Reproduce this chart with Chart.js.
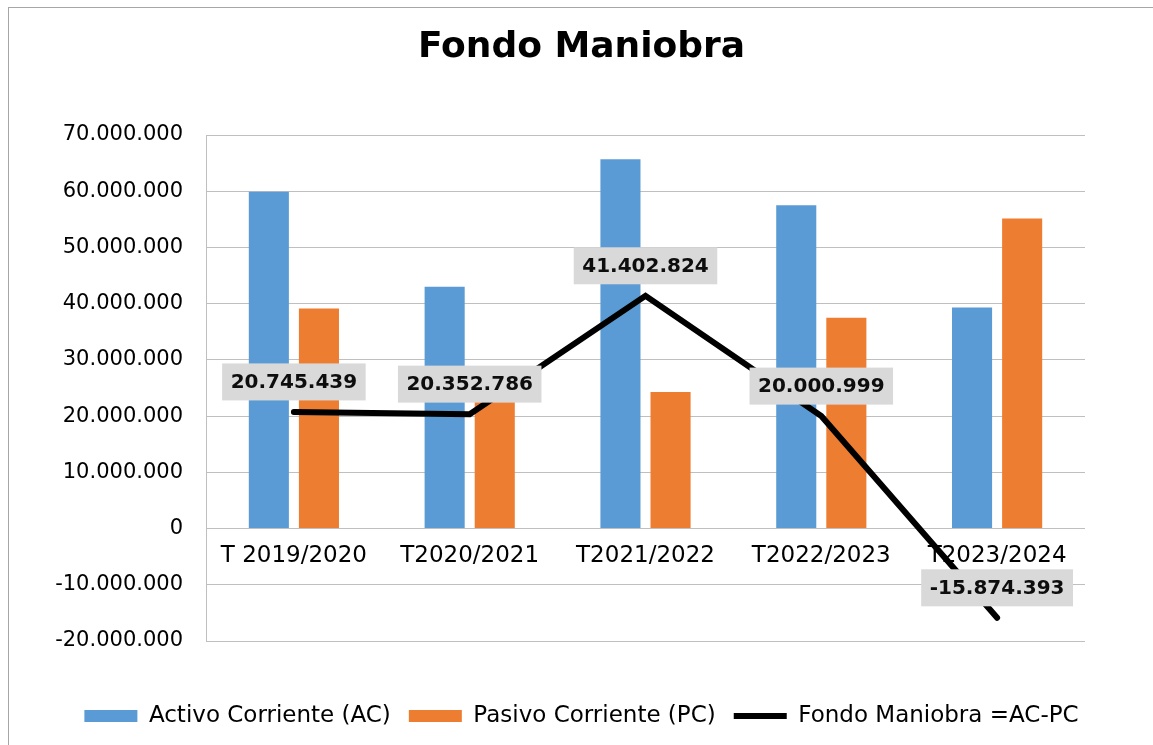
<!DOCTYPE html>
<html>
<head>
<meta charset="utf-8">
<script src="https://cdn.jsdelivr.net/npm/chart.js@4.4.1/dist/chart.umd.min.js"></script>
<style>
  body { margin: 0; background: #fff; }
  #wrap { width: 1153px; height: 745px; position: relative; }
</style>
</head>
<body>
<div id="wrap"><canvas id="myChart"></canvas></div>
<script>

const periodos = ["T 2019/2020", "T2020/2021", "T2021/2022", "T2022/2023", "T2023/2024"];
const activoCorriente = [59900000, 43000000, 65700000, 57500000, 39300000];
const pasivoCorriente = [39150000, 22650000, 24300000, 37500000, 55170000];
const fondoManiobra = [20745439, 20352786, 41402824, 20000999, -15874393];

const yMin = -20000000;
const yMax = 70000000;
const yStep = 10000000;

function fmt(v) {
  return String(v).replace(/\B(?=(\d{3})+(?!\d))/g, ".");
}

const ctx = document.getElementById("myChart");

// marco gris del grafico
const framePlugin = {
  id: "frame",
  beforeDraw(chart) {
    let c = chart.ctx;
    c.save();
    c.fillStyle = "#fff";
    c.fillRect(0, 0, chart.width, chart.height);
    c.strokeStyle = "#a6a6a6";
    c.lineWidth = 1;
    c.strokeRect(8.5, 7.5, 1300, 900);
    c.restore();
  }
};

// etiquetas grises de la linea
const labelPlugin = {
  id: "fmLabels",
  afterDatasetsDraw(chart) {
    let meta = chart.getDatasetMeta(2);
    let c = chart.ctx;
    c.save();
    c.font = 'bold 20px "DejaVu Sans"';
    c.textAlign = "center";
    c.textBaseline = "middle";
    meta.data.forEach((pt, i) => {
      let txt = fmt(fondoManiobra[i]);
      let w = c.measureText(txt).width + 17;
      let h = 37;
      let cy = pt.y - 30;
      c.fillStyle = "#d9d9d9";
      c.fillRect(pt.x - w / 2, cy - h / 2, w, h);
      c.fillStyle = "#0d0d0d";
      c.fillText(txt, pt.x, cy + 1);
    });
    c.restore();
  }
};

new Chart(ctx, {
  type: "bar",
  data: {
    labels: periodos,
    datasets: [{
      label: "Activo Corriente (AC)",
      data: activoCorriente,
      backgroundColor: "#5b9bd5",
      borderWidth: 0,
      pointStyle: "rect",
      categoryPercentage: 0.57,
      barPercentage: 0.8,
      order: 1
    }, {
      label: "Pasivo Corriente (PC)",
      data: pasivoCorriente,
      backgroundColor: "#ed7d31",
      borderWidth: 0,
      pointStyle: "rect",
      categoryPercentage: 0.57,
      barPercentage: 0.8,
      order: 1
    }, {
      type: "line",
      label: "Fondo Maniobra =AC-PC",
      data: fondoManiobra,
      borderColor: "#000",
      backgroundColor: "#000",
      borderWidth: 6,
      borderCapStyle: "round",
      borderJoinStyle: "miter",
      pointRadius: 0,
      pointStyle: "line",
      tension: 0,
      order: 0
    }]
  },
  options: {
    responsive: true,
    maintainAspectRatio: false,
    animation: false,
    layout: { padding: { left: 10, right: 0, top: 0, bottom: 7.5 } },
    plugins: {
      tooltip: { enabled: false },
      title: {
        display: true,
        text: "Fondo Maniobra",
        color: "#000",
        font: { family: "DejaVu Sans", size: 36, weight: "bold", lineHeight: 1.2 },
        padding: { top: 26, bottom: 65.8 }
      },
      legend: {
        position: "bottom",
        title: { display: true, text: "", font: { size: 1, lineHeight: 1 }, padding: { top: 44.5, bottom: 0 } },
        labels: {
          usePointStyle: true,
          pointStyleWidth: 53,
          boxHeight: 12,
          padding: 18,
          color: "#000",
          font: { family: "DejaVu Sans", size: 23 },
          sort: (a, b) => a.datasetIndex - b.datasetIndex
        }
      }
    },
    scales: {
      x: {
        position: { y: 0 },
        offset: true,
        grid: { display: false, drawTicks: false },
        border: { display: false },
        ticks: {
          color: "#000",
          padding: 14,
          font: { family: "DejaVu Sans", size: 23 }
        }
      },
      y: {
        min: yMin,
        max: yMax,
        afterFit: (s) => { s.width = 196; },
        grid: { color: "#bfbfbf", drawTicks: false },
        border: { display: true, color: "#bfbfbf" },
        ticks: {
          stepSize: yStep,
          padding: 23,
          color: "#000",
          font: { family: "DejaVu Sans", size: 21 },
          callback: (v) => fmt(v)
        }
      },
      // eje vacio a la derecha solo para dejar el hueco
      yRight: {
        position: "right",
        grid: { display: false, drawTicks: false },
        border: { display: false },
        ticks: { display: false },
        afterFit: (s) => { s.width = 68; }
      }
    }
  },
  plugins: [framePlugin, labelPlugin]
});

</script>
</body>
</html>
